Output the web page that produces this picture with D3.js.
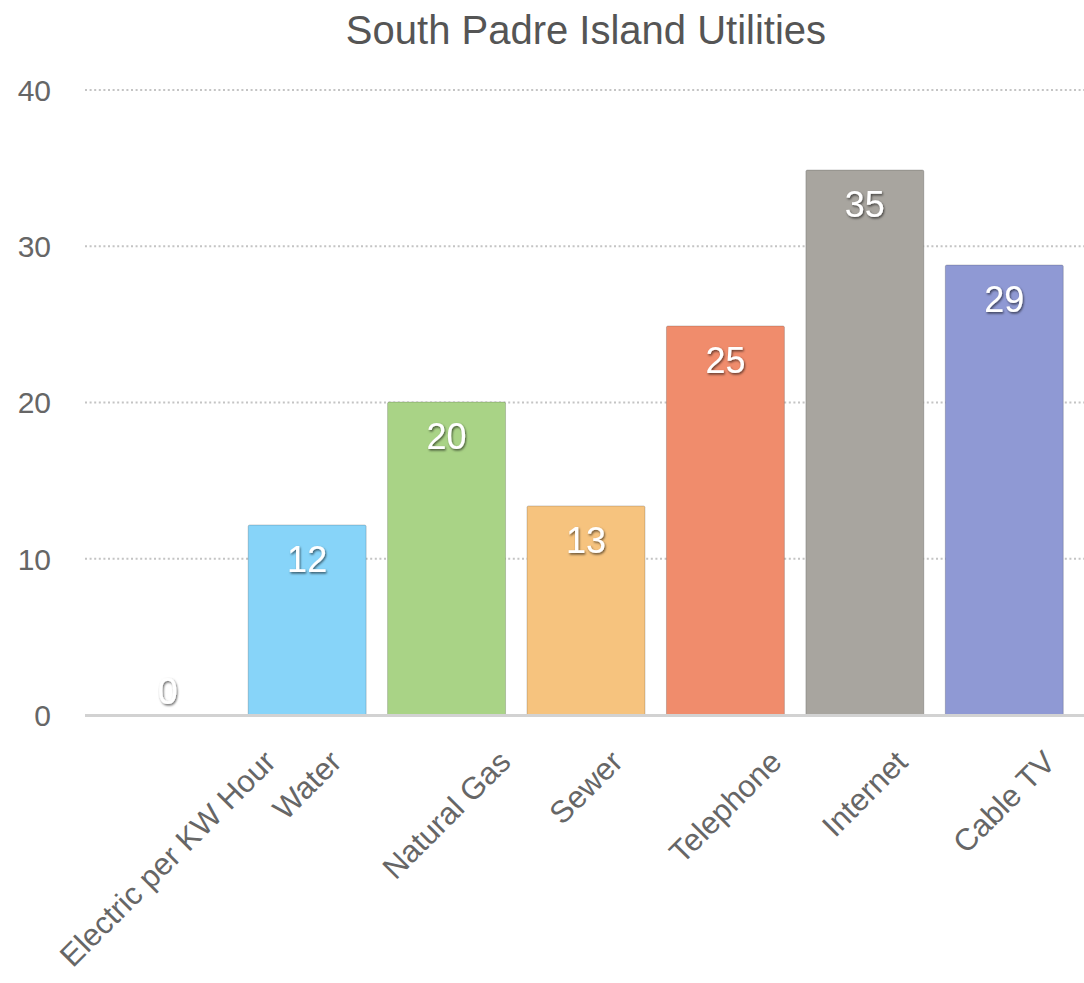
<!DOCTYPE html>
<html>
<head>
<meta charset="utf-8">
<script src="https://cdn.jsdelivr.net/npm/d3@7"></script>
<style>
  html, body { margin: 0; padding: 0; background: #fff; }
  svg { display: block; font-family: "Liberation Sans", Arial, Helvetica, sans-serif; }
</style>
</head>
<body>
<svg id="chart" width="1084" height="983"></svg>
<script>
const title = "South Padre Island Utilities";
const categories = ["Electric per KW Hour", "Water", "Natural Gas", "Sewer", "Telephone", "Internet", "Cable TV"];
const values = [0, 12.16, 20.03, 13.38, 24.9, 34.88, 28.8];
const labels = ["0", "12", "20", "13", "25", "35", "29"];
const colors = ["#87d4f9", "#87d4f9", "#a9d386", "#f6c37e", "#f08c6c", "#a8a59f", "#8f99d4"];
const yTicks = [0, 10, 20, 30, 40];

const svg = d3.select("#chart");
const defs = svg.append("defs");
const f = defs.append("filter").attr("id", "shadow").attr("x", "-30%").attr("y", "-30%").attr("width", "160%").attr("height", "160%");
f.append("feDropShadow").attr("dx", 1).attr("dy", 1.5).attr("stdDeviation", 1).attr("flood-color", "#000").attr("flood-opacity", 0.6);

const x = d3.scaleBand().domain(categories).range([98, 1074]).paddingInner(0.154).paddingOuter(0.077);
const y = d3.scaleLinear().domain([0, 40]).range([715, 90]);

// title
svg.append("text").attr("x", 586).attr("y", 44).attr("text-anchor", "middle")
  .attr("font-size", 40).attr("fill", "#555").text(title);

// grid lines
svg.append("g").selectAll("line").data(yTicks.filter(d => d > 0)).join("line")
  .attr("x1", 85).attr("x2", 1084)
  .attr("y1", d => y(d)).attr("y2", d => y(d))
  .attr("stroke", "#c4c4c4").attr("stroke-width", 2).attr("stroke-dasharray", "2,2.6");

// y labels
svg.append("g").selectAll("text").data(yTicks).join("text")
  .attr("x", 51).attr("y", d => y(d)).attr("dy", "0.36em")
  .attr("text-anchor", "end").attr("font-size", 30).attr("fill", "#666")
  .text(d => d);

// bars
svg.append("g").selectAll("rect").data(categories).join("rect")
  .attr("x", d => x(d)).attr("width", x.bandwidth())
  .attr("y", (d, i) => y(values[i])).attr("height", (d, i) => y(0) - y(values[i]))
  .attr("fill", (d, i) => colors[i])
  .attr("stroke", "rgba(0,0,0,0.18)").attr("stroke-width", 1)
  .attr("rx", 1.5);

// baseline
svg.append("line").attr("x1", 85).attr("x2", 1084).attr("y1", y(0) + 0.5).attr("y2", y(0) + 0.5)
  .attr("stroke", "#d2d2d2").attr("stroke-width", 3);

// value labels
svg.append("g").selectAll("text").data(categories).join("text")
  .attr("x", d => x(d) + x.bandwidth() / 2)
  .attr("y", (d, i) => {
    const top = y(values[i]);
    return (y(0) - top) > 60 ? top + 47 : top - 11;
  })
  .attr("text-anchor", "middle").attr("font-size", 36).attr("fill", "#fff")
  .attr("filter", "url(#shadow)")
  .text((d, i) => labels[i]);

// x labels rotated, bbox centered under tick, top aligned
const xl = svg.append("g");
categories.forEach(c => {
  const g = xl.append("g");
  g.append("text").attr("text-anchor", "end").attr("font-size", 31).attr("fill", "#666")
    .attr("transform", "rotate(-45)").text(c);
  const bb = g.node().getBBox();
  const cx = x(c) + x.bandwidth() / 2;
  g.attr("transform", `translate(${cx - (bb.x + bb.width / 2)},${744 - bb.y})`);
});
</script>
</body>
</html>
